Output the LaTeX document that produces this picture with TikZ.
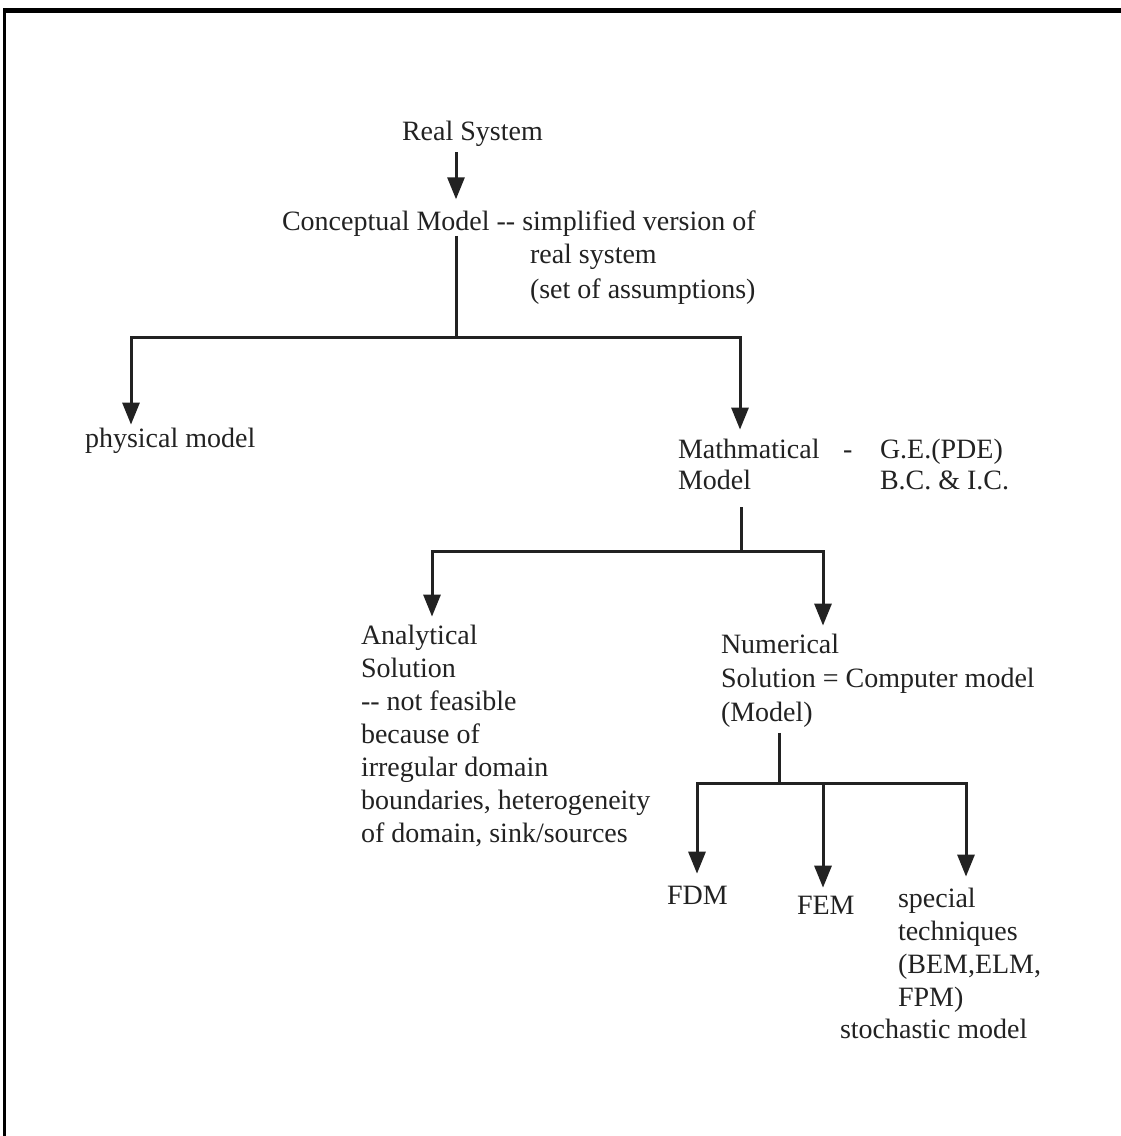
\documentclass[tikz,border=0pt]{standalone}
\usepackage{fontspec}
\setmainfont{Liberation Serif}
\usetikzlibrary{arrows.meta}
\definecolor{ink}{HTML}{222222}
\begin{document}
\begin{tikzpicture}[x=1pt,y=-1pt,
  lbl/.style={anchor=base west, inner sep=0pt, outer sep=0pt, text=ink, align=left,
              font=\fontsize{28}{33}\selectfont},
  conn/.style={draw=ink, line width=3pt},
  arr/.style={conn, -{Triangle[width=17pt,length=22pt]}}]
\useasboundingbox (0,0) rectangle (1121,1136);
\fill[white] (0,0) rectangle (1121,1136);
% page frame
\draw[line width=5pt] (3,10.5) -- (1121,10.5);
\draw[line width=3.5pt] (4.5,8) -- (4.5,1136);

% texts (base anchor of a multi-line node = baseline of its last line)
\node[lbl] (rs) at (402,140) {Real System};
\node[lbl] (cm) at (282,230) {Conceptual Model -{}- simplified version of};
\node[lbl, font=\fontsize{28}{35}\selectfont] (rsys) at (530,298) {real system\\(set of assumptions)};
\node[lbl] (pm) at (85,447) {physical model};
\node[lbl, font=\fontsize{28}{31}\selectfont] (mm) at (678,489) {Mathmatical\\Model};
\node[lbl] (dash) at (843,458) {-};
\node[lbl, font=\fontsize{28}{31}\selectfont] (ge) at (880,489) {G.E.(PDE)\\B.C. \& I.C.};
\node[lbl] (an) at (361,842) {Analytical\\Solution\\-{}- not feasible\\because of\\irregular domain\\boundaries, heterogeneity\\of domain, sink/sources};
\node[lbl, font=\fontsize{28}{34}\selectfont] (nu) at (721,721) {Numerical\\Solution = Computer model\\(Model)};
\node[lbl] (fdm) at (667,904) {FDM};
\node[lbl] (fem) at (797,914) {FEM};
\node[lbl] (sp) at (898,1006) {special\\techniques\\(BEM,ELM,\\FPM)};
\node[lbl] (sm) at (840,1038) {stochastic model};

% junctions
\coordinate (j1) at (456,337);
\coordinate (j1l) at (131,337);
\coordinate (j1r) at (740,337);
\coordinate (j2) at (741,551);
\coordinate (j2l) at (432,551);
\coordinate (j2r) at (823,551);
\coordinate (j3) at (779,783);
\coordinate (j3l) at (697,783);
\coordinate (j3m) at (823,783);
\coordinate (j3r) at (966,783);

% connectors
\draw[arr, shorten <=6pt, shorten >=11pt] (rs.south -| j1) -- (cm.north -| j1);
\draw[conn] (cm.south -| j1) -- (j1);
\draw[arr, shorten >=3pt] (j1) -- (j1l) -- (pm.north -| j1l);
\draw[arr, shorten >=9pt] (j1) -- (j1r) -- (mm.north -| j1r);
\draw[conn, shorten <=18pt] (mm.south -| j2) -- (j2);
\draw[arr, shorten >=8pt] (j2) -- (j2l) -- (an.north -| j2l);
\draw[arr, shorten >=8pt] (j2) -- (j2r) -- (nu.north -| j2r);
\draw[conn, shorten <=6pt] (nu.south -| j3) -- (j3);
\draw[arr, shorten >=12pt] (j3) -- (j3l) -- (fdm.north -| j3l);
\draw[arr, shorten >=8pt] (j3m) -- (fem.north -| j3m);
\draw[arr, shorten >=11pt] (j3) -- (j3r) -- (sp.north -| j3r);
\end{tikzpicture}
\end{document}
